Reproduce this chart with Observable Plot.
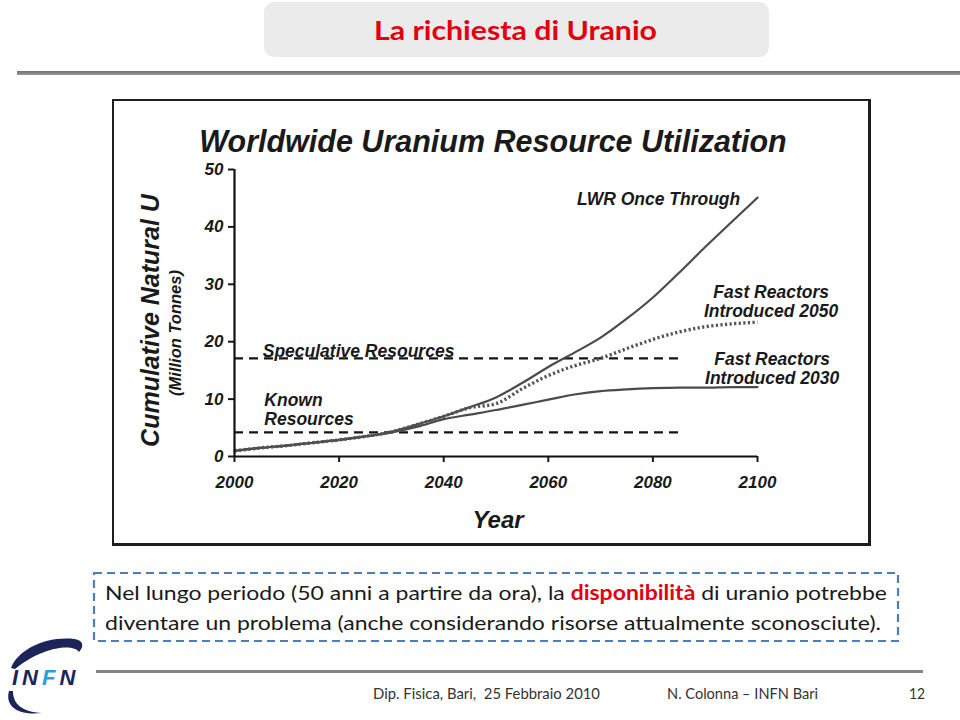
<!DOCTYPE html>
<html>
<head>
<meta charset="utf-8">
<script src="https://cdn.jsdelivr.net/npm/d3@7"></script>
<script src="https://cdn.jsdelivr.net/npm/@observablehq/plot@0.6"></script>
<style>
  html, body { margin: 0; padding: 0; background: #fff; }
  #slide { position: relative; width: 960px; height: 720px; overflow: hidden; background: #fff; font-family: Lato, "Open Sans", sans-serif; }
  .abs { position: absolute; white-space: pre; }
  .fit { display: inline-block; transform-origin: 0 50%; }
  #titlebox { left: 264px; top: 2px; width: 505px; height: 55px; background: #ebebeb; border-radius: 10px; }
  #title { left: 374px; top: 13px; line-height: 34px; font-size: 27px; font-weight: bold; color: #e3000f; }
  #rule1 { left: 17px; top: 71px; width: 943px; height: 4px; background: linear-gradient(#6f6f6f, #9a9a9a); }
  #chartbox { left: 112px; top: 99px; width: 754px; height: 442px; border: 2.5px solid #1e1e1e; border-right-width: 3.5px; border-bottom-width: 3.5px; background: #fff; }
  #chart { left: 113px; top: 100px; }
  .cap { left: 105px; line-height: 26px; font-size: 20px; color: #1a1a1a; }
  .cap b { color: #e3000f; }
  #rule2 { left: 96px; top: 670px; width: 827px; height: 3px; background: #858585; }
  .foot { top: 682px; line-height: 22px; font-size: 15px; color: #333; }
</style>
</head>
<body>
<div id="slide">
  <div id="titlebox" class="abs"></div>
  <div id="title" class="abs"><span class="fit" data-w="283">La richiesta di Uranio</span></div>
  <div id="rule1" class="abs"></div>
  <div id="chartbox" class="abs"></div>
  <div id="chart" class="abs"></div>
  <svg class="abs" style="left:0;top:0" width="960" height="720" id="deco">
    <rect x="94" y="573" width="804" height="68" fill="none" stroke="#4f7db7" stroke-width="2.2" stroke-dasharray="8,5"/>
    <path d="M11,668 C18,650 45,636 74,639 C84,640 84,647 79,652 C74,644 45,645 15,669 Z" fill="#1c2559"/>
    <path d="M9,691 C5,705 16,716 42,713 C22,712 13,704 13,691 Z" fill="#1c2559"/>
    <text x="12" y="685" font-family="'Liberation Sans', Arial, sans-serif" font-style="italic" font-weight="bold" font-size="22" letter-spacing="4" fill="#1c2559">IN<tspan fill="#2b9fd6">F</tspan>N</text>
  </svg>
  <div class="abs cap" style="top:579px"><span class="fit" data-w="782">Nel lungo periodo (50 anni a partire da ora), la <b>disponibilità</b> di uranio potrebbe</span></div>
  <div class="abs cap" style="top:609px"><span class="fit" data-w="776">diventare un problema (anche considerando risorse attualmente sconosciute).</span></div>
  <div id="rule2" class="abs"></div>
  <div class="abs foot" style="left:373px"><span class="fit" data-w="227">Dip. Fisica, Bari,  25 Febbraio 2010</span></div>
  <div class="abs foot" style="left:667px"><span class="fit" data-w="151">N. Colonna – INFN Bari</span></div>
  <div class="abs foot" style="left:909px"><span class="fit" data-w="16">12</span></div>
</div>
<script>
// ---- Data ----
const chartTitle = "Worldwide Uranium Resource Utilization";
const years = [2000, 2005, 2010, 2015, 2020, 2025, 2030, 2035, 2040, 2045, 2050, 2055, 2060, 2065, 2070, 2075, 2080, 2085, 2090, 2095, 2100];
const lwrOnceThrough = [1.0, 1.5, 1.9, 2.4, 2.9, 3.5, 4.3, 5.6, 7.0, 8.6, 10.3, 12.8, 15.6, 18.1, 20.7, 24.0, 27.7, 32.0, 36.5, 40.8, 45.1];
const fast2050 =       [1.0, 1.5, 1.9, 2.4, 2.9, 3.5, 4.3, 5.6, 7.0, 8.5, 9.2, 11.8, 14.1, 15.8, 17.1, 18.8, 20.4, 21.7, 22.6, 23.1, 23.4];
const fast2030 =       [1.0, 1.5, 1.9, 2.4, 2.9, 3.5, 4.2, 5.2, 6.5, 7.3, 8.1, 9.0, 9.9, 10.8, 11.4, 11.7, 11.9, 12.0, 12.0, 12.1, 12.1];
const resourceNames = ["Known Resources", "Speculative Resources"];
const resourceLevels = [4.2, 17.1];
const resourceFrom = [2000, 2000];
const resourceTo = [2085, 2085];
const xTicks = [2000, 2020, 2040, 2060, 2080, 2100];
const yTicks = [0, 10, 20, 30, 40, 50];
const yLabel = "Cumulative Natural U";
const yUnit = "(Million Tonnes)";
const xLabel = "Year";

const toRows = (name, vals) => years.map((year, i) => ({series: name, year, value: vals[i]}));
const lwrRows = toRows("LWR Once Through", lwrOnceThrough);
const f50Rows = toRows("Fast Reactors Introduced 2050", fast2050);
const f30Rows = toRows("Fast Reactors Introduced 2030", fast2030);
const resources = resourceNames.map((name, i) => ({name, level: resourceLevels[i], from: resourceFrom[i], to: resourceTo[i]}));

const font = "'Liberation Sans', Arial, Helvetica, sans-serif";
const ink = "#1a1a1a";
const curveColor = "#4a4a4a";

const chart = Plot.plot({
  width: 757, height: 445,
  marginLeft: 121, marginRight: 113, marginTop: 69, marginBottom: 89,
  x: {domain: [2000, 2100], label: null},
  y: {domain: [0, 50], label: null},
  style: {fontFamily: font, fontStyle: "italic", fontWeight: "bold", color: ink, background: "transparent", overflow: "visible"},
  marks: [
    Plot.axisX({ticks: xTicks, tickFormat: "d", tickSize: 6, tickPadding: 13, fontSize: 17, strokeWidth: 2, label: null}),
    Plot.axisY({ticks: yTicks, tickFormat: "d", tickSize: 6, tickPadding: 5, fontSize: 17, strokeWidth: 2, label: null}),
    Plot.ruleY(resources, {y: "level", x1: "from", x2: "to", stroke: "#151515", strokeWidth: 2.2, strokeDasharray: "9,6"}),
    Plot.line(f30Rows, {x: "year", y: "value", curve: "monotone-x", stroke: curveColor, strokeWidth: 2.2}),
    Plot.line(lwrRows, {x: "year", y: "value", curve: "monotone-x", stroke: curveColor, strokeWidth: 2.2}),
    Plot.line(f50Rows, {x: "year", y: "value", curve: "monotone-x", stroke: "#555", strokeWidth: 3.4, strokeDasharray: "2.2,2.4", strokeLinecap: "butt"}),
    Plot.ruleY([0], {stroke: "#111", strokeWidth: 2.2}),
    Plot.ruleX([2000], {stroke: "#111", strokeWidth: 2.2}),
    // series labels
    Plot.text(["LWR Once Through"], {x: () => 2096.7, y: () => 44.8, textAnchor: "end", fontSize: 17.5}),
    Plot.text(["Fast Reactors\nIntroduced 2050"], {x: () => 2102.6, y: () => 27.0, fontSize: 17.5, lineHeight: 1.06}),
    Plot.text(["Fast Reactors\nIntroduced 2030"], {x: () => 2102.8, y: () => 15.3, fontSize: 17.5, lineHeight: 1.1}),
    Plot.text(["Speculative Resources"], {x: () => 2005.4, y: () => 18.3, textAnchor: "start", fontSize: 17.5}),
    Plot.text(["Known\nResources"], {x: () => 2005.7, y: () => 8.2, textAnchor: "start", fontSize: 17.5, lineHeight: 1.06}),
    // chart title and axis titles
    Plot.text([chartTitle], {frameAnchor: "top", lineAnchor: "middle", dx: -3, dy: -27, fontSize: 30.5}),
    Plot.text([yLabel], {frameAnchor: "left", textAnchor: "middle", lineAnchor: "middle", rotate: -90, dx: -84, dy: 7.5, fontSize: 25}),
    Plot.text([yUnit], {frameAnchor: "left", textAnchor: "middle", lineAnchor: "middle", rotate: -90, dx: -59, dy: 20, fontSize: 16.5}),
    Plot.text([xLabel], {frameAnchor: "bottom", lineAnchor: "middle", dx: 2, dy: 64, fontSize: 24})
  ]
});
document.getElementById("chart").appendChild(chart);

// fit HTML slide texts to the measured widths
document.querySelectorAll(".fit").forEach(el => {
  const target = +el.dataset.w;
  const w = el.getBoundingClientRect().width;
  if (w > 0) el.style.transform = `scaleX(${target / w})`;
});
</script>
</body>
</html>
